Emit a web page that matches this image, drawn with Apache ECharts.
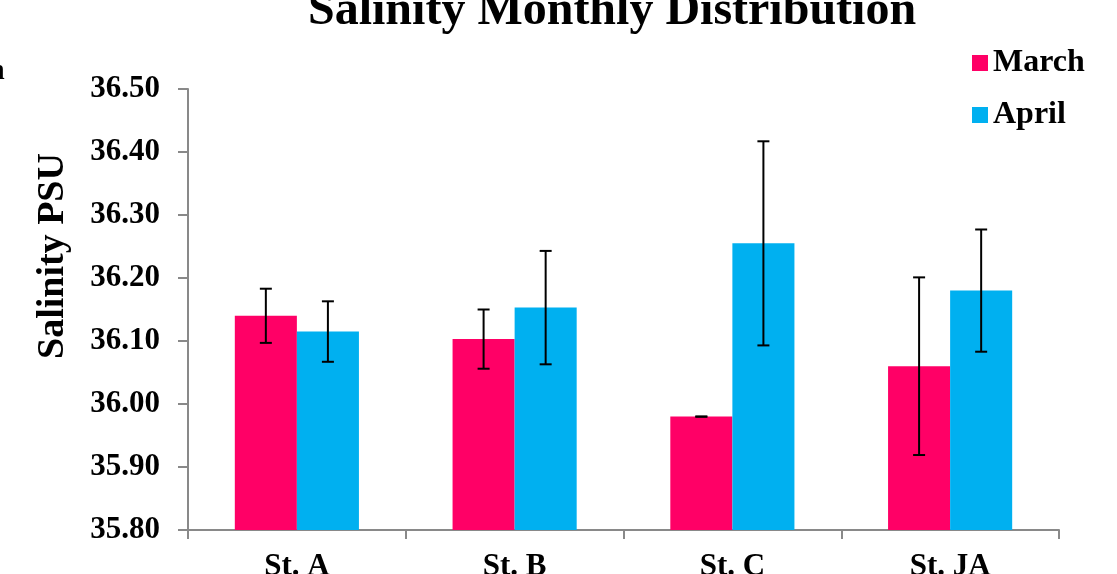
<!DOCTYPE html>
<html>
<head>
<meta charset="utf-8">
<script src="https://cdn.jsdelivr.net/npm/echarts@6/dist/echarts.min.js"></script>
<style>
html,body{margin:0;padding:0;background:#fff;}
#chart{width:1117px;height:574px;}
</style>
</head>
<body>
<div id="chart"></div>
<script>
var categories = ['St. A', 'St. B', 'St. C', 'St. JA'];
var marchVals = [36.14, 36.103, 35.98, 36.06];
var aprilVals = [36.115, 36.153, 36.255, 36.18];
var marchErr = [0.043, 0.047, 0.0, 0.141];
var aprilErr = [0.048, 0.09, 0.162, 0.097];
var seriesNames = ['March', 'April'];
var colors = ['#FF0066', '#00B0F0'];

var FONT = "'Liberation Serif', 'Times New Roman', serif";
var CAT_GAP = 0.43;

function errSeries(vals, errs, side) {
  var data = vals.map(function (v, i) { return [i, v, errs[i]]; });
  return {
    type: 'custom',
    name: seriesNames[side] + ' err',
    z: 10,
    silent: true,
    data: data,
    renderItem: function (params, api) {
      var i = api.value(0), v = api.value(1), e = api.value(2);
      var band = api.size([1, 0])[0];
      var bw = band * (1 - CAT_GAP) / 2;
      var c = api.coord([i, v]);
      var x = c[0] + (side === 0 ? -bw / 2 : bw / 2);
      var top = api.coord([i, v + e])[1];
      var bot = api.coord([i, v - e])[1];
      var cap = 6;
      var st = { stroke: '#000', lineWidth: 2 };
      return {
        type: 'group',
        children: [
          { type: 'line', shape: { x1: x, y1: top, x2: x, y2: bot }, style: st },
          { type: 'line', shape: { x1: x - cap, y1: top, x2: x + cap, y2: top }, style: st },
          { type: 'line', shape: { x1: x - cap, y1: bot, x2: x + cap, y2: bot }, style: st }
        ]
      };
    }
  };
}

var chart = echarts.init(document.getElementById('chart'), null, { renderer: 'canvas' });
chart.setOption({
  animation: false,
  backgroundColor: '#fff',
  title: {
    text: 'Salinity Monthly Distribution',
    left: 303,
    top: -17,
    textStyle: { fontFamily: FONT, fontWeight: 'bold', fontSize: 48, color: '#000' }
  },
  graphic: [
    {
      type: 'text', left: -12, top: 56,
      style: { text: 'n', font: 'bold 30px ' + FONT, fill: '#000' }
    },
    {
      type: 'text', x: 53, y: 256, rotation: Math.PI / 2,
      style: { text: 'Salinity PSU', font: 'bold 38px ' + FONT, fill: '#000',
               align: 'center', verticalAlign: 'middle' }
    }
  ],
  legend: {
    orient: 'vertical',
    left: 967,
    top: 42,
    itemWidth: 16,
    itemHeight: 16,
    itemGap: 20,
    itemTextGap: 7,
    icon: 'rect',
    data: seriesNames,
    textStyle: { fontFamily: FONT, fontWeight: 'bold', fontSize: 32, lineHeight: 32, color: '#000' }
  },
  grid: { left: 188, right: 58, top: 89, bottom: 44, containLabel: false, outerBoundsMode: 'none' },
  xAxis: {
    type: 'category',
    data: categories,
    axisLine: { lineStyle: { color: '#898989', width: 2 } },
    axisTick: { show: true, length: 9, lineStyle: { color: '#898989', width: 2 } },
    axisLabel: { margin: 21, fontFamily: FONT, fontWeight: 'bold', fontSize: 31, color: '#000' }
  },
  yAxis: {
    type: 'value',
    min: 35.8,
    max: 36.5,
    interval: 0.1,
    splitLine: { show: false },
    axisLine: { show: true, lineStyle: { color: '#898989', width: 2 } },
    axisTick: { show: true, length: 10, lineStyle: { color: '#898989', width: 2 } },
    axisLabel: {
      margin: 28,
      fontFamily: FONT, fontWeight: 'bold', fontSize: 31, color: '#000',
      formatter: function (v) { return v.toFixed(2); }
    }
  },
  series: [
    { type: 'bar', name: seriesNames[0], data: marchVals, itemStyle: { color: colors[0] },
      barGap: '0%', barCategoryGap: (CAT_GAP * 100) + '%' },
    { type: 'bar', name: seriesNames[1], data: aprilVals, itemStyle: { color: colors[1] },
      barGap: '0%', barCategoryGap: (CAT_GAP * 100) + '%' },
    errSeries(marchVals, marchErr, 0),
    errSeries(aprilVals, aprilErr, 1)
  ]
});
</script>
</body>
</html>
